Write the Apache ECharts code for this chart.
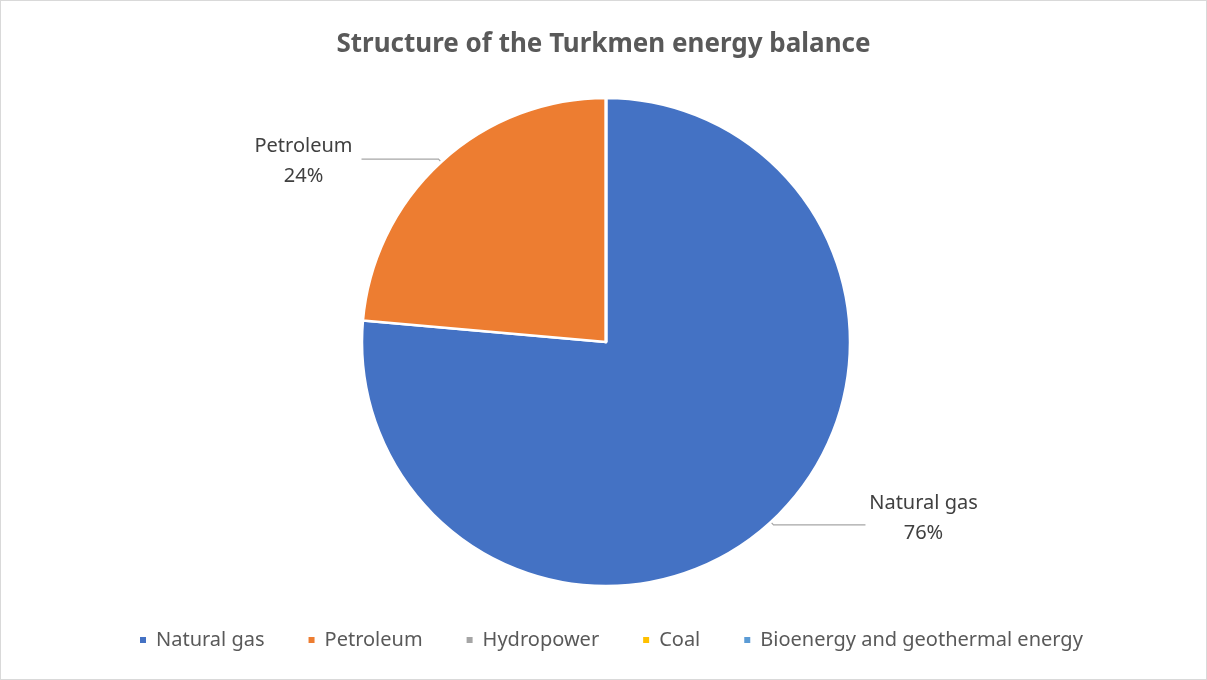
<!DOCTYPE html>
<html>
<head>
<meta charset="utf-8">
<script src="https://cdn.jsdelivr.net/npm/echarts@6/dist/echarts.min.js"></script>
<style>
    html, body {margin: 0; padding: 0; background: #fff;}
    #main {width: 1207px; height: 680px; border: 1px solid #d9d9d9; box-sizing: border-box;}
</style>
</head>
<body>
<div id="main"></div>
<script>
var categories = ['Natural gas', 'Petroleum', 'Hydropower', 'Coal', 'Bioenergy and geothermal energy'];
var shares = [76.4, 23.6, 0, 0, 0];
var colors = ['#4472c4', '#ed7d31', '#a5a5a5', '#ffc000', '#5b9bd5'];

~function () {
    var myChart = echarts.init(document.getElementById('main'));
    var data = categories.map(function (name, i) {
        var item = {name: name, value: shares[i], itemStyle: {color: colors[i]}};
        if (!shares[i]) {
            item.label = {show: false};
            item.labelLine = {show: false};
        }
        return item;
    });
    // the two labelled slices use a slightly different leader length
    data[0].labelLine = {length2: 92};
    data[1].labelLine = {length2: 77};

    var option = {
        animation: false,
        title: {
            text: 'Structure of the Turkmen energy balance',
            left: 'center',
            top: 26,
            textStyle: {
                fontFamily: 'Noto Sans',
                fontSize: 26,
                fontWeight: 'bold',
                color: '#595959'
            }
        },
        legend: {
            bottom: 24,
            left: 132,
            icon: 'rect',
            itemWidth: 8,
            itemHeight: 8,
            itemGap: 42,
            textStyle: {
                fontFamily: 'Noto Sans',
                fontSize: 20,
                color: '#595959',
                padding: [0, 0, 0, 4]
            },
            data: categories
        },
        series: [
            {
                type: 'pie',
                center: [605, 341],
                radius: 244,
                startAngle: 90,
                clockwise: true,
                avoidLabelOverlap: false,
                itemStyle: {
                    borderColor: '#fff',
                    borderWidth: 2.5
                },
                label: {
                    show: true,
                    color: '#404040',
                    formatter: function (p) {
                        return '{a|' + p.name + '}\n{a|' + Math.round(p.percent) + '%}';
                    },
                    rich: {
                        a: {
                            width: 106,
                            align: 'center',
                            fontFamily: 'Noto Sans',
                            fontSize: 20,
                            color: '#404040',
                            lineHeight: 30
                        }
                    }
                },
                labelLine: {
                    show: true,
                    length: 4,
                    length2: 85,
                    lineStyle: {color: '#a6a6a6', width: 1.2}
                },
                labelLayout: function (p) {
                    return p.dataIndex === 0 ? {dy: -7} : {dy: 2};
                },
                data: data
            }
        ]
    };
    myChart.setOption(option);
}();
</script>
</body>
</html>
